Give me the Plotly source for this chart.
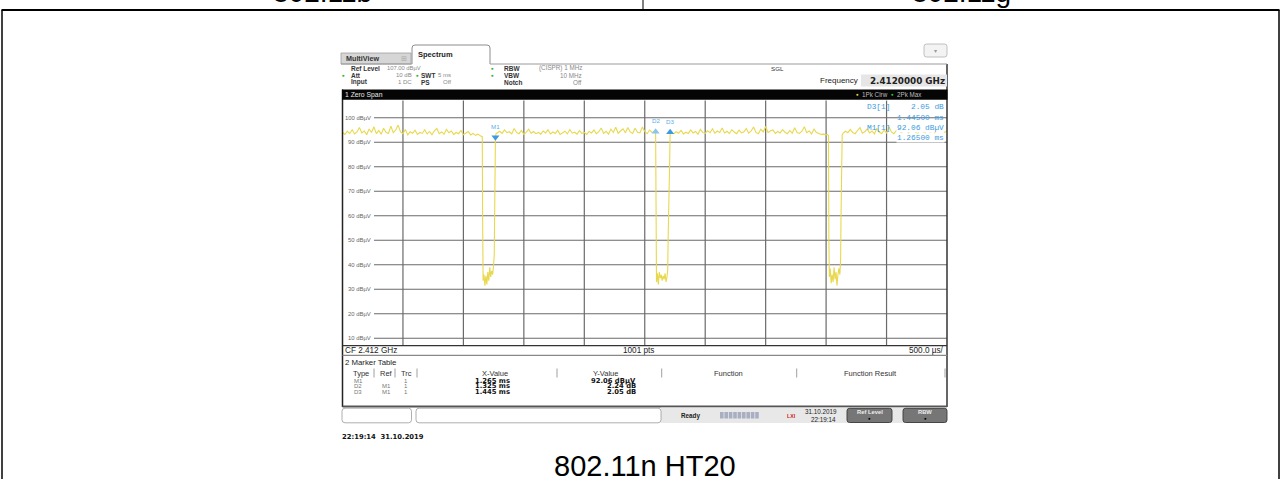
import plotly.graph_objects as go

W, H = 1281, 479

# ---------------- data ----------------
sweep_ms = [0.0, 5.0]
ref_level_dbuv = 107.0
range_bottom_dbuv = 7.0
grid_levels_dbuv = [100, 90, 80, 70, 60, 50, 40, 30, 20, 10]
grid_level_labels = ["100 dBµV", "90 dBµV", "80 dBµV", "70 dBµV", "60 dBµV",
                     "50 dBµV", "40 dBµV", "30 dBµV", "20 dBµV", "10 dBµV"]
grid_times_ms = [0.5, 1.0, 1.5, 2.0, 2.5, 3.0, 3.5, 4.0, 4.5]

noise_step_ms = 0.02
seg1_start_ms = 0.00
seg1_dbuv = [94.0, 93.2, 94.5, 93.6, 95.1, 93.4, 94.2, 96.0, 93.8, 94.6,
             93.1, 95.4, 94.0, 96.3, 93.5, 94.8, 93.3, 95.7, 94.1, 93.6,
             96.6, 93.9, 95.0, 97.0, 94.2, 93.5, 95.2, 93.0, 94.3, 93.7,
             94.9, 93.2, 94.0, 93.6, 95.1, 93.4, 94.4, 93.1, 94.7, 95.6,
             93.5, 94.2, 93.3, 95.3, 93.9, 94.6, 93.2, 94.0, 93.5, 94.8,
             93.1, 93.9, 94.4, 93.0, 93.6, 92.8, 93.3, 92.6]
seg2_start_ms = 1.28
seg2_dbuv = [93.8, 94.5, 93.6, 95.0, 93.9, 94.3, 93.4, 95.6, 94.0, 93.5,
             94.8, 93.2, 94.1, 95.3, 93.7, 94.4, 93.5, 94.0, 93.3, 94.6,
             93.8, 95.1, 93.4, 94.2, 93.6, 94.9, 93.2, 93.9, 94.5, 93.4,
             95.2, 93.7, 94.1, 93.3, 94.7, 93.6, 94.0, 93.2, 94.4, 93.8,
             95.0, 93.5, 94.3, 95.8, 93.6, 94.5, 93.3, 95.4, 94.0, 96.1,
             93.7, 94.6, 95.5, 93.9, 96.0, 94.2, 93.6, 95.7, 94.1, 93.8,
             96.2, 94.4, 93.5, 95.0, 94.0, 94.3]
seg3_start_ms = 2.72
seg3_dbuv = [94.0, 93.5, 94.3, 93.7, 94.8, 93.4, 94.1, 93.6, 95.0, 93.8,
             94.4, 93.3, 95.3, 94.0, 93.6, 94.7, 93.9, 95.5, 93.7, 94.6,
             94.0, 95.8, 93.8, 94.5, 93.6, 95.1, 94.2, 93.5, 94.9, 93.8,
             94.3, 95.6, 93.7, 94.6, 96.2, 94.0, 93.5, 95.3, 94.2, 96.4,
             93.9, 94.7, 95.0, 93.6, 94.4, 93.8, 95.2, 94.1, 93.5, 94.8,
             93.7, 95.9, 94.0, 93.6, 94.5, 96.3, 93.9, 94.6, 93.4, 95.4,
             94.0, 93.6, 93.2, 93.3, 93.0]
seg4_start_ms = 4.14
seg4_dbuv = [93.6, 94.5, 93.9, 95.2, 94.0, 93.5, 94.8, 96.0, 93.7, 94.3,
             95.4, 93.8, 94.6, 93.4, 95.7, 94.1, 93.6, 94.9, 93.8, 96.3,
             94.2, 93.5, 94.7, 95.1, 93.9, 94.4, 96.5, 93.7, 94.8, 95.3,
             94.0, 93.6, 95.9, 94.3, 93.8, 96.6, 94.1, 95.0, 93.7, 96.2,
             94.5, 95.4, 94.0, 94.6]

dip1_ms = [1.150, 1.156, 1.159, 1.163, 1.170, 1.178, 1.186, 1.194, 1.202, 1.210,
           1.218, 1.226, 1.234, 1.242, 1.250, 1.255, 1.258, 1.260, 1.261, 1.262,
           1.263, 1.264, 1.265, 1.270]
dip1_dbuv = [92.6, 92.3, 60.0, 33.5, 36.0, 31.5, 35.5, 32.0, 37.0, 33.5,
             39.0, 35.0, 37.5, 36.0, 40.0, 44.0, 58.0, 74.5, 66.0, 75.0,
             67.0, 80.0, 92.06, 93.5]
dip2_ms = [2.585, 2.590, 2.593, 2.597, 2.604, 2.612, 2.620, 2.628, 2.636, 2.644,
           2.652, 2.660, 2.668, 2.676, 2.684, 2.690, 2.694, 2.698, 2.702, 2.706,
           2.710]
dip2_dbuv = [93.9, 94.30, 55.0, 33.0, 36.5, 32.0, 37.0, 34.5, 36.0, 33.5,
             35.5, 34.0, 36.5, 33.0, 35.0, 38.0, 52.0, 70.0, 62.0, 82.0,
             94.11]
dip3_ms = [4.010, 4.020, 4.023, 4.027, 4.034, 4.042, 4.050, 4.058, 4.066, 4.074,
           4.082, 4.090, 4.098, 4.106, 4.114, 4.120, 4.123, 4.125, 4.126, 4.127,
           4.128, 4.130, 4.133]
dip3_dbuv = [93.2, 92.8, 50.0, 35.0, 38.5, 32.5, 36.0, 33.0, 39.0, 34.0,
             37.0, 31.5, 36.0, 38.5, 36.0, 42.0, 58.0, 75.0, 61.0, 74.0,
             63.0, 80.0, 93.0]

marker_m1_ms = 1.265
marker_m1_dbuv = 92.06
delta_names = ["D2", "D3"]
delta_ms = [1.325, 1.445]
delta_db = [2.24, 2.05]

table_types = ["M1", "D2", "D3"]
table_refs = ["", "M1", "M1"]
table_trc = ["1", "1", "1"]
table_x = ["1.265 ms", "1.325 ms", "1.445 ms"]
table_y = ["92.06 dBµV", "2.24 dB", "2.05 dB"]

header_left = [("Ref Level", "107.00 dBµV"), ("Att", "10 dB"), ("Input", "1 DC")]
header_mid = [("", ""), ("SWT", "5 ms"), ("PS", "Off")]
header_right = [("RBW", "(CISPR) 1 MHz"), ("VBW", "10 MHz"), ("Notch", "Off")]

# ---------------- build trace ----------------
def seg(start, vals):
    return [round(start + i * noise_step_ms, 4) for i in range(len(vals))], list(vals)

t_all, v_all = [], []
for tt, vv in [seg(seg1_start_ms, seg1_dbuv), (dip1_ms, dip1_dbuv),
               seg(seg2_start_ms, seg2_dbuv), (dip2_ms, dip2_dbuv),
               seg(seg3_start_ms, seg3_dbuv), (dip3_ms, dip3_dbuv),
               seg(seg4_start_ms, seg4_dbuv)]:
    t_all += tt
    v_all += vv

d_ms = [marker_m1_ms + d for d in delta_ms]
d_db = [marker_m1_dbuv + d for d in delta_db]

# ---------------- helpers ----------------
def X(p): return p / W
def Y(p): return 1 - p / H

PL, PR, PT, PB = 342.5, 947.0, 100.6, 345.6
TRACE = "#e8d84c"
BLUE = "#3c9be0"
UI = "Liberation Sans"
GRID = "#6a6a6a"

shapes, annots = [], []

def rect(x0, y0, x1, y1, fill=None, line=None, lw=1, layer="above"):
    shapes.append(dict(type="rect", xref="paper", yref="paper",
                       x0=X(x0), x1=X(x1), y0=Y(y1), y1=Y(y0),
                       fillcolor=fill or "rgba(0,0,0,0)",
                       line=dict(color=line or "rgba(0,0,0,0)", width=lw if line else 0),
                       layer=layer))

def seg_line(x0, y0, x1, y1, color="#000", w=1, layer="above"):
    shapes.append(dict(type="line", xref="paper", yref="paper",
                       x0=X(x0), x1=X(x1), y0=Y(y0), y1=Y(y1),
                       line=dict(color=color, width=w), layer=layer))

def rrect(x0, y0, x1, y1, r, fill, line, lw=1):
    p = (f"M {X(x0+r)},{Y(y0)} L {X(x1-r)},{Y(y0)} Q {X(x1)},{Y(y0)} {X(x1)},{Y(y0+r)} "
         f"L {X(x1)},{Y(y1-r)} Q {X(x1)},{Y(y1)} {X(x1-r)},{Y(y1)} "
         f"L {X(x0+r)},{Y(y1)} Q {X(x0)},{Y(y1)} {X(x0)},{Y(y1-r)} "
         f"L {X(x0)},{Y(y0+r)} Q {X(x0)},{Y(y0)} {X(x0+r)},{Y(y0)} Z")
    shapes.append(dict(type="path", xref="paper", yref="paper", path=p,
                       fillcolor=fill, line=dict(color=line, width=lw), layer="above"))

def text(x, y, s, size=6.5, color="#222", xanchor="left", family=UI, bold=False, bg=None):
    if bold:
        s = "<b>" + s + "</b>"
    a = dict(xref="paper", yref="paper", x=X(x), y=Y(y), text=s, showarrow=False,
             xanchor=xanchor, yanchor="middle", borderpad=0,
             font=dict(size=size, color=color, family=family))
    if bg:
        a["bgcolor"] = bg
    annots.append(a)

# ---------------- figure ----------------
fig = go.Figure()
fig.add_trace(go.Scatter(x=t_all, y=v_all, mode="lines", line=dict(color=TRACE, width=1.1),
                         hoverinfo="skip", showlegend=False))
fig.add_trace(go.Scatter(x=[marker_m1_ms], y=[marker_m1_dbuv], mode="markers",
                         marker=dict(symbol="triangle-down", size=7, color=BLUE),
                         hoverinfo="skip", showlegend=False))
fig.add_trace(go.Scatter(x=d_ms, y=d_db, mode="markers",
                         marker=dict(symbol="triangle-up", size=7, color=["#8cc4ec", BLUE]),
                         hoverinfo="skip", showlegend=False))

for name, tx, ty in zip(["M1"] + delta_names, [marker_m1_ms] + d_ms, [marker_m1_dbuv] + d_db):
    annots.append(dict(xref="x", yref="y", x=tx, y=ty, text=name, showarrow=False,
                       yshift=11, font=dict(size=6.2, color="#5aaee8", family=UI)))

# grid
for t in grid_times_ms:
    shapes.append(dict(type="line", xref="x", yref="paper", x0=t, x1=t, y0=Y(PB), y1=Y(PT),
                       line=dict(color=GRID, width=1.2), layer="below"))
for lv, lab in zip(grid_levels_dbuv, grid_level_labels):
    shapes.append(dict(type="line", xref="paper", yref="y", x0=X(374), x1=X(PR), y0=lv, y1=lv,
                       line=dict(color=GRID, width=1.2), layer="below"))
    annots.append(dict(xref="paper", yref="y", x=X(372.5), y=lv, text=lab, showarrow=False,
                       xanchor="right", yanchor="middle",
                       font=dict(size=5.9, color="#666", family=UI)))

# plot frame
seg_line(PL, 89.5, PL, 407, "#222", 1.5)
seg_line(PR, 64, PR, 407, "#333", 1.5)
seg_line(PL, PB, PR, PB, "#333", 1.2)

# ---------------- document frame ----------------
seg_line(1.5, 10, 1279.5, 10, "#000", 2)
seg_line(643, 0, 643, 10, "#000", 1)
seg_line(2, 10, 2, 479, "#000", 1.5)
seg_line(1279, 10, 1279, 479, "#000", 1.5)
text(322, -7, "802.11b", size=28, color="#000", xanchor="center")
text(962, -7, "802.11g", size=28, color="#000", xanchor="center")
text(645, 465.5, "802.11n HT20", size=29, color="#000", xanchor="center")

# ---------------- instrument header ----------------
rect(341, 53, 411, 64, fill="#d6d6d6", line="#a0a0a0", lw=0.8)
text(345, 58.8, "MultiView", size=7.2, color="#333", bold=True)
text(404, 58.8, "⊞", size=6.5, color="#aaa", xanchor="center")
tab = (f"M {X(412)},{Y(64)} L {X(412)},{Y(48)} Q {X(412)},{Y(45)} {X(415)},{Y(45)} "
       f"L {X(487)},{Y(45)} Q {X(490)},{Y(45)} {X(490)},{Y(48)} L {X(490)},{Y(64)}")
shapes.append(dict(type="path", xref="paper", yref="paper", path=tab, fillcolor="#ffffff",
                   line=dict(color="#8c8c8c", width=1), layer="above"))
text(417, 55, "Spectrum", size=7.5, color="#222", bold=True)
seg_line(490, 64, 947, 64, "#9a9a9a", 1)
seg_line(341, 64, 412, 64, "#9a9a9a", 1)
rrect(924, 44, 947, 57, 2.5, "#f3f3f3", "#b0b0b0", 0.8)
text(935.5, 50.5, "▾", size=6, color="#999", xanchor="center")

rows_y = [68.5, 75.5, 82.5]
GREEN = "#33b33c"
for i, y in enumerate(rows_y):
    lab, val = header_left[i]
    if i == 1:
        text(343, y, "●", size=4.8, color=GREEN, xanchor="center")
    text(349.5, y, lab, size=6.5, color="#333", bold=True)
    if i == 0:
        text(385.5, y, val, size=5.8, color="#888")
    else:
        text(412.5, y, val, size=6.0, color="#888", xanchor="right")
    lab, val = header_mid[i]
    if lab:
        if i == 1:
            text(417.3, y, "●", size=4.8, color=GREEN, xanchor="center")
        text(420.5, y, lab, size=6.5, color="#333", bold=True)
        text(452, y, val, size=6.0, color="#888", xanchor="right")
    lab, val = header_right[i]
    if i < 2:
        text(492, y, "●", size=4.8, color=GREEN, xanchor="center")
    text(503, y, lab, size=6.5, color="#333", bold=True)
    text(583, y, val, size=6.3, color="#888", xanchor="right")

text(777, rows_y[0], "SGL", size=6.2, color="#333", xanchor="center")
rect(861, 74.5, 947, 86.5, fill="#e6e6e6")
text(859, 80.5, "Frequency", size=8, color="#222", xanchor="right")
text(945.5, 80.5, "2.4120000 GHz", size=8.8, color="#222", xanchor="right",
     family="DejaVu Sans", bold=True)

# black bar
rect(PL - 0.5, 89.5, PR + 0.5, 99.8, fill="#050505")
text(344, 94.8, "1 Zero Span", size=6.8, color="#e8e8e8")
text(857.5, 94.8, "●", size=4.5, color="#e8d84c", xanchor="center")
text(860.5, 94.8, "1Pk Clrw", size=6.3, color="#bbbbbb")
text(892.5, 94.8, "●", size=4.5, color="#33c33c", xanchor="center")
text(895.5, 94.8, "2Pk Max", size=6.3, color="#bbbbbb")

# marker info (top right)
MONO = "Liberation Mono"
text(866, 107, "D3[1]", size=7.8, color=BLUE, family=MONO)
text(945, 107, "2.05 dB", size=7.8, color=BLUE, family=MONO, xanchor="right")
text(945, 117.5, "1.44500 ms", size=7.8, color=BLUE, family=MONO, xanchor="right")
text(866, 128, "M1[1]", size=7.8, color=BLUE, family=MONO)
text(945, 128, "92.06 dBµV", size=7.8, color=BLUE, family=MONO, xanchor="right", bg="#ffffff")
text(945, 138.3, "1.26500 ms", size=7.8, color=BLUE, family=MONO, xanchor="right", bg="#ffffff")

# ---------------- bottom bar / marker table ----------------
text(343.5, 350.7, "CF 2.412 GHz", size=8.2, color="#222")
text(638, 350.7, "1001 pts", size=8.2, color="#222", xanchor="center")
text(945, 350.7, "500.0 µs/", size=8.2, color="#222", xanchor="right")
seg_line(PL, 355.3, PR, 355.3, "#888", 1.2)

text(343.5, 362.5, "2 Marker Table", size=7.8, color="#222")
for xs in [374, 395, 417, 557, 661.7, 796.7, 945]:
    seg_line(xs, 368.5, xs, 377.5, "#888", 0.8)
for cx, lab in [(361, "Type"), (386, "Ref"), (406, "Trc"), (495, "X-Value"),
                (605, "Y-Value"), (728, "Function"), (870, "Function Result")]:
    text(cx, 373, lab, size=7.5, color="#333", xanchor="center")
for i, ry in enumerate([380.6, 386.2, 391.8]):
    text(358.5, ry, table_types[i], size=6.0, color="#777", xanchor="center")
    if table_refs[i]:
        text(386, ry, table_refs[i], size=6.0, color="#777", xanchor="center")
    text(406, ry, table_trc[i], size=6.0, color="#777", xanchor="center")
    text(492, ry, table_x[i], size=6.8, color="#111", xanchor="center",
         family="DejaVu Sans", bold=True)
    text(637, ry, table_y[i], size=6.8, color="#111", xanchor="right",
         family="DejaVu Sans", bold=True)
seg_line(PL, 406.5, PR, 406.5, "#555", 2)

# status bar
rect(661, 407.6, PR, 423, fill="#e8e8e8")
rrect(342, 408.2, 411.5, 422.8, 3, "#ffffff", "#9a9a9a", 0.8)
rrect(416, 408.2, 661, 422.8, 3, "#ffffff", "#9a9a9a", 0.8)
text(680, 415.5, "Ready", size=6.3, color="#222", bold=True)
for k in range(9):
    rect(720 + k * 4.4, 412, 723.6 + k * 4.4, 418.5, fill="#a9aec2")
text(791, 415.5, "LXI", size=5.2, color="#d01818", xanchor="center", bold=True)
text(821, 411.7, "31.10.2019", size=6.3, color="#222", xanchor="center")
text(823, 419, "22:19:14", size=6.3, color="#222", xanchor="center")
for bx0, bx1, lab in [(847, 892, "Ref Level"), (903, 947, "RBW")]:
    rrect(bx0, 408.3, bx1, 422.5, 2.5, "#767676", "#3a3a3a", 0.9)
    text((bx0 + bx1) / 2, 412.3, lab, size=5.8, color="#eeeeee", xanchor="center", bold=True)
    text((bx0 + bx1) / 2, 418.6, "●", size=4.5, color="#000", xanchor="center")

text(340.5, 436.5, "22:19:14  31.10.2019", size=6.8, color="#111",
     family="DejaVu Sans", bold=True)

fig.update_layout(
    width=W, height=H, autosize=False,
    margin=dict(l=0, r=0, t=0, b=0),
    paper_bgcolor="#ffffff", plot_bgcolor="rgba(0,0,0,0)",
    showlegend=False,
    xaxis=dict(domain=[X(PL), X(PR)], range=sweep_ms, visible=False, fixedrange=True),
    yaxis=dict(domain=[Y(PB), Y(PT)], range=[range_bottom_dbuv, ref_level_dbuv],
               visible=False, fixedrange=True),
    shapes=shapes, annotations=annots,
)
fig.write_html("out.html", config={"displayModeBar": False},
               post_script="document.body.style.margin='0';document.body.style.overflow='hidden';")
